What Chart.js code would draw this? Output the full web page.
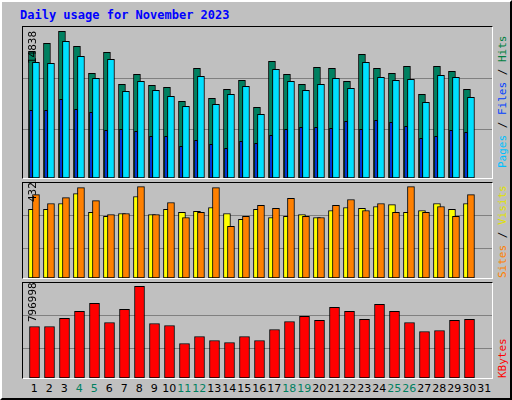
<!DOCTYPE html>
<html>
<head>
<meta charset="utf-8">
<script src="https://cdn.jsdelivr.net/npm/chart.js@4"></script>
<style>
  body { margin: 0; background: #fff; }
  #wrap { position: relative; width: 512px; height: 400px; background: #c0c0c0;
          box-sizing: border-box; border: 2px solid; border-color: #fff #000 #000 #fff; font-family: "DejaVu Sans", sans-serif; }
  .panel { position: absolute; left: 20px; width: 471px; box-sizing: border-box;
           border: 1px solid; border-color: #000 #fff #fff #000; }
  .panel canvas { display: block; }
  .vlab { position: absolute; transform-origin: left top; transform: rotate(-90deg); white-space: nowrap;
          font-family: "DejaVu Sans Mono", monospace; font-size: 11px; }
  .dl { position: absolute; top: 380px; width: 20px; margin-left: -10px; text-align: center; font-size: 11px; }
  #title { position: absolute; left: 18px; top: 6px; color: #0000ff; font: bold 12px "DejaVu Sans Mono", monospace; }
</style>
</head>
<body>
<div id="wrap">
  <div id="title">Daily usage for November 2023</div>
  <div class="panel" style="top:24px;height:153px"><canvas id="c1" width="469" height="151"></canvas></div>
  <div class="panel" style="top:180px;height:97px"><canvas id="c2" width="469" height="95"></canvas></div>
  <div class="panel" style="top:280px;height:97px"><canvas id="c3" width="469" height="95"></canvas></div>
  <div id="days"></div>
  <div class="vlab" style="left:24px;top:62px">14838</div>
  <div class="vlab" style="left:24px;top:200px">432</div>
  <div class="vlab" style="left:24px;top:320px">796998</div>
  <div class="vlab" style="left:494px;top:166px"><span style="color:#00c0ff">Pages</span> / <span style="color:#0040ff">Files</span> / <span style="color:#008040">Hits</span></div>
  <div class="vlab" style="left:494px;top:276px"><span style="color:#ff8000">Sites</span> / <span style="color:#e0e000">Visits</span></div>
  <div class="vlab" style="left:494px;top:376px"><span style="color:#ff0000">KBytes</span></div>
</div>
<script>
const days = [1,2,3,4,5,6,7,8,9,10,11,12,13,14,15,16,17,18,19,20,21,22,23,24,25,26,27,28,29,30];
const dayLabels = [1,2,3,4,5,6,7,8,9,10,11,12,13,14,15,16,17,18,19,20,21,22,23,24,25,26,27,28,29,30,31];
const weekendDays = [4,5,11,12,18,19,25,26];
const hits = [12815,13624,14838,13320,10589,12713,9476,10488,9375,9173,7756,11095,8060,8970,9881,7149,11803,10488,9476,11196,11095,9780,12511,11095,10589,11297,8464,11297,10791,8970];
const files = [11701,11600,13826,12308,10083,12005,8767,9779,8869,8262,7250,10285,7452,8464,9273,6441,10993,9779,8869,9476,10083,9071,11701,10184,9880,9981,7655,10386,10184,8160];
const pages = [6845,6845,7958,6946,6643,4822,4923,4721,4215,4215,3203,3810,3406,3001,3709,3507,4316,4923,5125,5125,5024,5732,4923,5834,5631,5227,4013,4215,4822,4620];
const visits = [324,324,352,399,310,291,305,385,300,324,310,315,333,305,277,324,286,291,300,286,319,333,329,338,347,310,319,352,324,352];
const sites = [394,352,380,427,366,300,305,432,300,357,286,310,427,244,291,343,329,376,291,286,343,371,319,352,310,432,310,338,291,394];
const kbytes = [447986,447986,517802,578891,648707,482894,596345,796998,474167,456713,299627,360716,325808,308354,360716,325808,421805,491621,535256,500348,613799,578891,509075,639980,578891,482894,404351,413078,500348,509075];

const xMin = 0.403, xMax = 0.403 + 469 / 15;

function pts(vals, shift) {
  return vals.map((v, i) => ({ x: days[i] + shift, y: v }));
}
function ds(vals, shift, color, thick, order) {
  return { data: pts(vals, shift), backgroundColor: color, borderColor: '#000', borderWidth: 1,
           borderSkipped: false, barThickness: thick, grouped: false, order: order };
}
function panel(id, sets, yMax, grid) {
  new Chart(document.getElementById(id), {
    type: 'bar',
    data: { datasets: sets },
    options: {
      responsive: false, animation: false,
      layout: { padding: 0 },
      plugins: { legend: { display: false }, tooltip: { enabled: false } },
      scales: {
        x: { type: 'linear', min: xMin, max: xMax, offset: false, display: false },
        y: { min: 0, max: yMax, display: true,
             ticks: { display: false }, border: { display: false },
             grid: { color: '#808080', drawTicks: false, lineWidth: 1 },
             afterBuildTicks: s => { s.ticks = grid.map(v => ({ value: v })); } }
      }
    }
  });
}

panel('c1', [ds(hits, 0, '#008060', 7, 3), ds(files, 0.267, '#00e0ff', 7, 2), ds(pages, -0.063, '#0040ff', 3, 1)], 15275, [4923, 10083]);
panel('c2', [ds(visits, 0, '#ffff00', 7, 2), ds(sites, 0.267, '#ff8000', 7, 1)], 449, [141, 296]);
panel('c3', [ds(kbytes, 0.17, '#ff0000', 10, 1)], 826000, [256000, 544000]);

// day labels along the bottom
const daysBox = document.getElementById('days');
dayLabels.forEach(d => {
  const el = document.createElement('div');
  el.className = 'dl';
  el.textContent = d;
  el.style.left = (19 + (d + 0.29 - xMin) * 15) + 'px';
  el.style.color = weekendDays.includes(d) ? '#008060' : '#000';
  daysBox.appendChild(el);
});
</script>
</body>
</html>
